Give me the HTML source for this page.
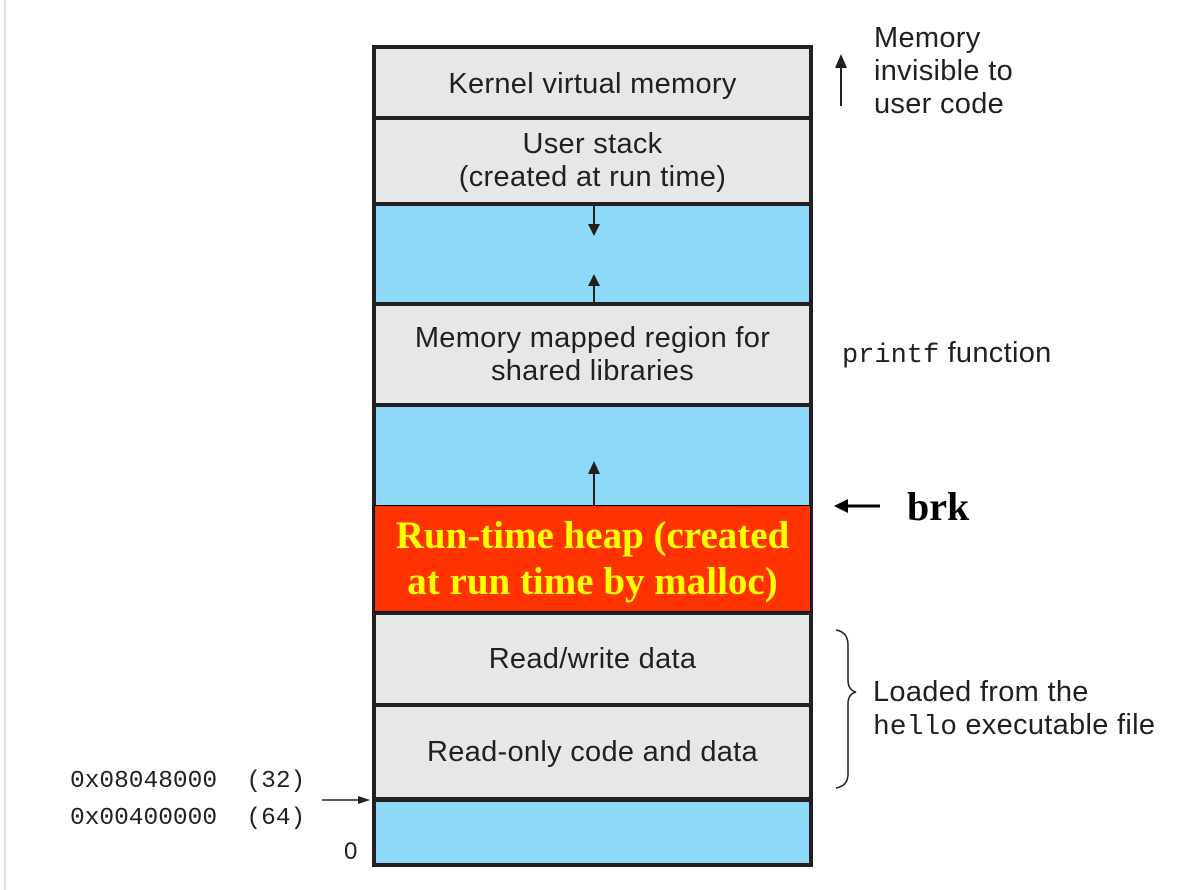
<!DOCTYPE html>
<html><head><style>
body{margin:0;width:1181px;height:890px;background:#fff;position:relative;overflow:hidden;font-family:"Liberation Sans",sans-serif;color:#231f20}
.a{position:absolute}
.s{position:absolute;left:376px;width:433px;display:flex;align-items:center;justify-content:center;text-align:center;font-size:29px;line-height:33px;letter-spacing:0.3px}
.g{background:#e6e7e8}.b{background:#8ed8f8}
.m{font-family:"Liberation Mono",monospace;letter-spacing:0}
</style></head><body>
<div class="a" style="left:4px;top:0;width:2px;height:890px;background:#e0e0e0"></div>
<div class="a" style="left:372px;top:45px;width:441px;height:822px;background:#231f20"></div>
<div class="s g" style="top:49px;height:67px;padding-top:3px;box-sizing:border-box">Kernel virtual memory</div>
<div class="s g" style="top:120px;height:82px">User stack<br>(created at run time)</div>
<div class="s b" style="top:206px;height:96px"></div>
<div class="s g" style="top:306px;height:97px">Memory mapped region for<br>shared libraries</div>
<div class="s b" style="top:407px;height:98px"></div>
<div class="s" style="top:505px;left:374px;width:435px;height:105px;background:#ff3300;border:1px solid #000;color:#ffff00;font-family:'Liberation Serif',serif;font-weight:bold;font-size:39px;line-height:46px;letter-spacing:0">Run-time heap (created<br>at run time by malloc)</div>
<div class="s g" style="top:615px;height:88px">Read/write data</div>
<div class="s g" style="top:707px;height:90px">Read-only code and data</div>
<div class="s b" style="top:802px;height:61px"></div>
<svg class="a" style="left:0;top:0" width="1181" height="890">
<g stroke="#231f20" stroke-width="2" fill="#231f20">
<line x1="594" y1="206" x2="594" y2="226"/><polygon points="588,224 600,224 594,236" stroke="none"/>
<line x1="594" y1="302" x2="594" y2="282"/><polygon points="588,286 600,286 594,274" stroke="none"/>
<line x1="594" y1="505" x2="594" y2="470"/><polygon points="588,474 600,474 594,461" stroke="none"/>
<line x1="841" y1="106" x2="841" y2="64"/><polygon points="835,68 847,68 841,54" stroke="none"/>
<line x1="880" y1="506" x2="845" y2="506" stroke-width="3" stroke="#000"/><polygon points="848,499 848,513 834,506" fill="#000" stroke="none"/>
<line x1="322" y1="800" x2="362" y2="800" stroke-width="1.5"/><polygon points="358,796 358,804 370,800" stroke="none"/>
</g>
<path d="M836,630 Q848,632 848,645 L848,680 Q848,690 856,692 Q848,694 848,704 L848,774 Q848,786 836,788" fill="none" stroke="#231f20" stroke-width="1.5"/>
</svg>
<div class="a" style="left:874px;top:22px;font-size:29px;line-height:33px;letter-spacing:0.3px">Memory<br>invisible to<br>user code</div>
<div class="a" style="left:842px;top:337px;font-size:29px;line-height:33px;letter-spacing:0.3px"><span class="m" style="font-size:27px">printf</span> function</div>
<div class="a" style="left:907px;top:483px;font-family:'Liberation Serif',serif;font-weight:bold;font-size:40px;color:#000">brk</div>
<div class="a" style="left:873px;top:676px;font-size:29px;line-height:33px;letter-spacing:0.3px">Loaded from the<br><span class="m" style="font-size:28px">hello</span> executable file</div>
<div class="a m" style="left:70px;top:763px;font-size:24.5px;line-height:37px;white-space:pre">0x08048000  (32)
0x00400000  (64)</div>
<div class="a" style="left:344px;top:838px;font-size:24px">0</div>
</body></html>
